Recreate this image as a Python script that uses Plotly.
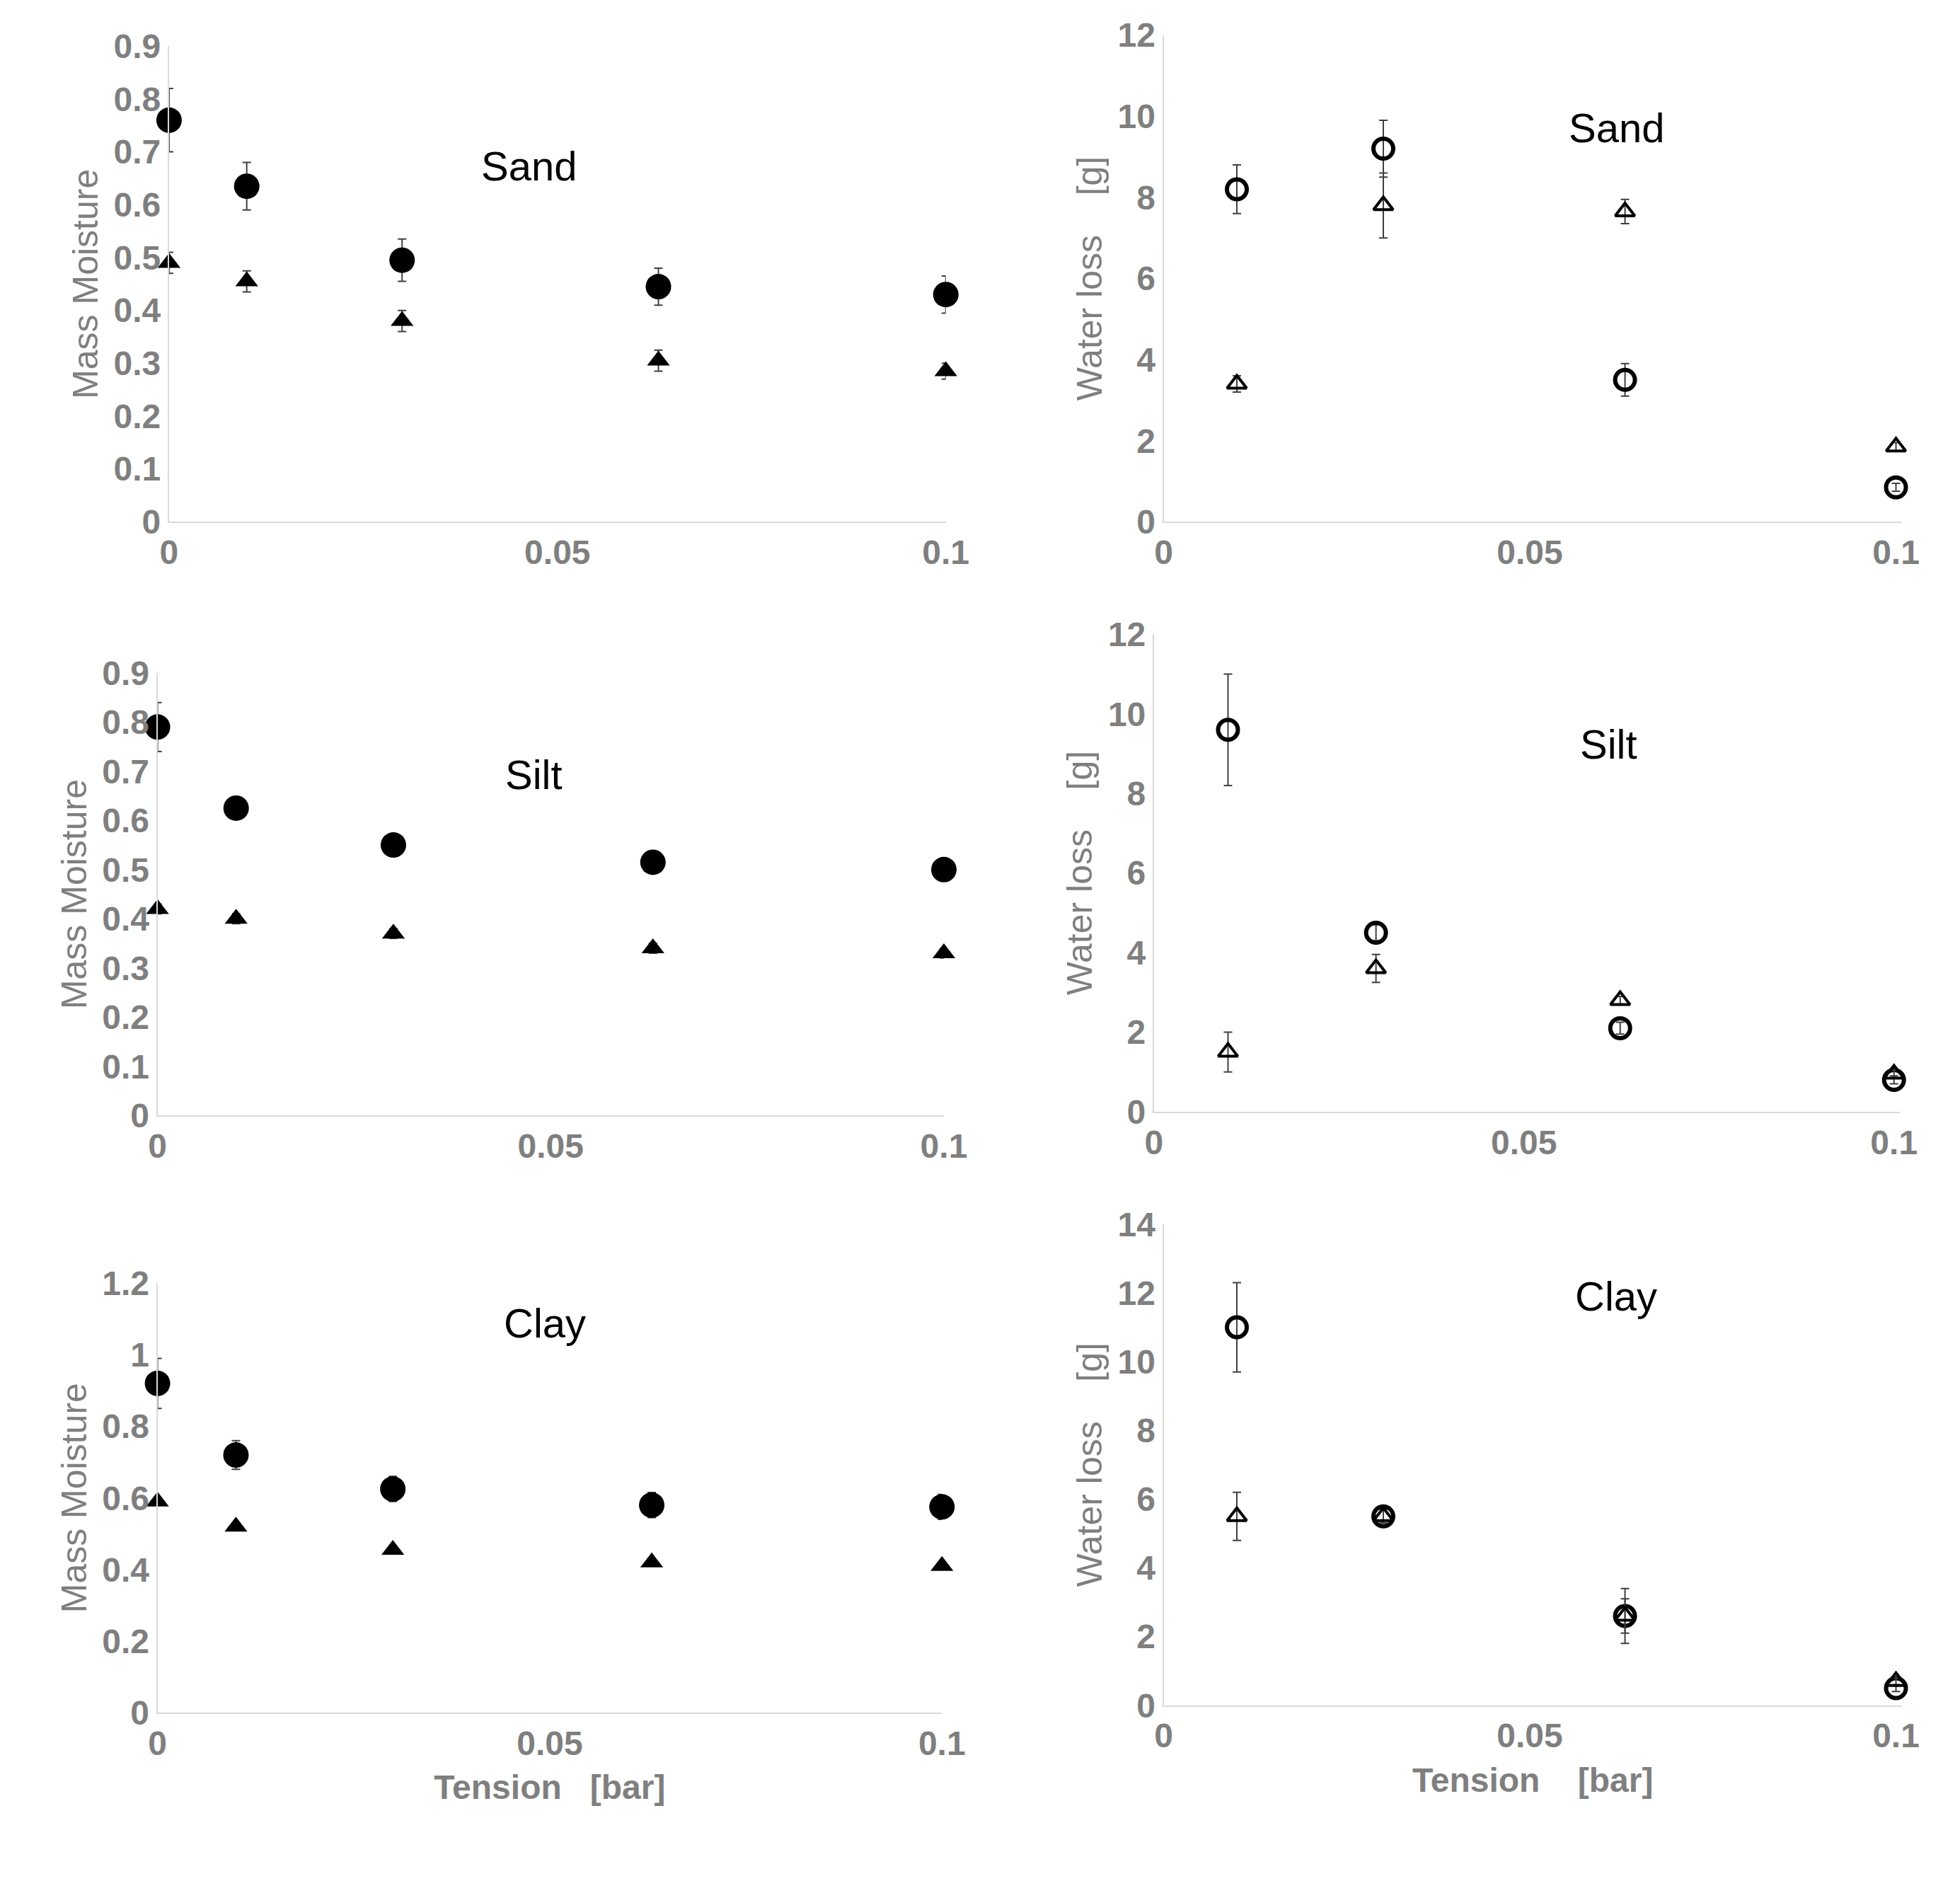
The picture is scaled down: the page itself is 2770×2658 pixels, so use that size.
import plotly.graph_objects as go

x_mass = [0, 0.01, 0.03, 0.063, 0.1]
x_loss = [0.01, 0.03, 0.063, 0.1]

sand_mass_c = [0.76, 0.635, 0.495, 0.445, 0.43]
sand_mass_c_err = [0.06, 0.045, 0.04, 0.035, 0.035]
sand_mass_t = [0.49, 0.455, 0.38, 0.305, 0.285]
sand_mass_t_err = [0.02, 0.02, 0.02, 0.02, 0.015]
sand_loss_c = [8.2, 9.2, 3.5, 0.85]
sand_loss_c_err = [0.6, 0.7, 0.4, 0.1]
sand_loss_t = [3.4, 7.8, 7.65, 1.85]
sand_loss_t_err = [0.2, 0.8, 0.3, 0.1]

silt_mass_c = [0.79, 0.625, 0.55, 0.515, 0.5]
silt_mass_c_err = [0.05, 0.02, 0.015, 0.015, 0.01]
silt_mass_t = [0.42, 0.40, 0.37, 0.34, 0.33]
silt_mass_t_err = [0.01, 0.01, 0.01, 0.01, 0.01]
silt_loss_c = [9.6, 4.5, 2.1, 0.8]
silt_loss_c_err = [1.4, 0.2, 0.15, 0.1]
silt_loss_t = [1.5, 3.6, 2.8, 0.95]
silt_loss_t_err = [0.5, 0.35, 0.1, 0.1]

clay_mass_c = [0.92, 0.72, 0.625, 0.58, 0.575]
clay_mass_c_err = [0.07, 0.04, 0.035, 0.035, 0.035]
clay_mass_t = [0.59, 0.52, 0.455, 0.42, 0.41]
clay_mass_t_err = [0.01, 0.01, 0.01, 0.01, 0.01]
clay_loss_c = [11.0, 5.5, 2.6, 0.5]
clay_loss_c_err = [1.3, 0.2, 0.8, 0.1]
clay_loss_t = [5.5, 5.5, 2.6, 0.7]
clay_loss_t_err = [0.7, 0.2, 0.5, 0.1]

GRAY = "#7f7f7f"
fig = go.Figure()

panels = [
    # name, xs, c, cerr, t, terr, xdom, ydom, ymax, dtick, filled, ytitle, xtitle, label pos
    ("Sand", x_mass, sand_mass_c, sand_mass_c_err, sand_mass_t, sand_mass_t_err, [0.080, 0.483], [0.730, 0.988], 0.9, 0.1, True, "Mass Moisture", "", (0.40, 0.80)),
    ("Sand", x_loss, sand_loss_c, sand_loss_c_err, sand_loss_t, sand_loss_t_err, [0.596, 0.979], [0.730, 0.994], 12, 2, False, "Water loss    [g]", "", (0.68, 0.86)),
    ("Silt", x_mass, silt_mass_c, silt_mass_c_err, silt_mass_t, silt_mass_t_err, [0.074, 0.482], [0.408, 0.648], 0.9, 0.1, True, "Mass Moisture", "", (0.44, 0.77)),
    ("Silt", x_loss, silt_loss_c, silt_loss_c_err, silt_loss_t, silt_loss_t_err, [0.591, 0.978], [0.410, 0.669], 12, 2, False, "Water loss    [g]", "", (0.65, 0.77)),
    ("Clay", x_mass, clay_mass_c, clay_mass_c_err, clay_mass_t, clay_mass_t_err, [0.074, 0.481], [0.084, 0.317], 1.2, 0.2, True, "Mass Moisture", "Tension   [bar]", (0.44, 0.85)),
    ("Clay", x_loss, clay_loss_c, clay_loss_c_err, clay_loss_t, clay_loss_t_err, [0.596, 0.979], [0.088, 0.349], 14, 2, False, "Water loss    [g]", "Tension    [bar]", (0.67, 0.80)),
]

layout = {}
for i, (name, xs, c, ce, t, te, xd, yd, ymax, dt, filled, yt, xt, lp) in enumerate(panels):
    n = "" if i == 0 else str(i + 1)
    xa, ya = "x" + n, "y" + n
    err = lambda e: dict(type="data", array=e, color="#404040", thickness=2, width=6)
    fig.add_trace(go.Scatter(x=xs, y=c, mode="markers", xaxis=xa, yaxis=ya, error_y=err(ce), cliponaxis=False,
                             marker=dict(symbol="circle" if filled else "circle-open", size=36 if filled else 28,
                                         color="black", line=dict(width=6 if not filled else 0, color="black"))))
    fig.add_trace(go.Scatter(x=xs, y=t, mode="markers", xaxis=xa, yaxis=ya, error_y=err(te), cliponaxis=False,
                             marker=dict(symbol="triangle-up" if filled else "triangle-up-open", size=28 if filled else 24,
                                         color="black", line=dict(width=4 if not filled else 0, color="black"))))
    layout["xaxis" + n] = dict(domain=xd, anchor=ya, range=[0, 0.1] if filled else [0, 0.1008],
                               tickvals=[0, 0.05, 0.1],
                               ticktext=["0", "0.05", "0.1"], showline=True, linecolor="#d9d9d9", linewidth=2,
                               showgrid=False, zeroline=False, ticks="", ticklen=0,
                               tickfont=dict(size=48, color=GRAY, family="Liberation Sans", weight="bold"),
                               title=dict(text="<b>" + xt + "</b>", font=dict(size=48, color=GRAY), standoff=20))
    layout["yaxis" + n] = dict(domain=yd, anchor=xa, range=[0, ymax], dtick=dt, showline=True,
                               linecolor="#d9d9d9", linewidth=2, showgrid=False, zeroline=False,
                               tickfont=dict(size=48, color=GRAY, family="Liberation Sans", weight="bold"),
                               title=dict(text=yt, font=dict(size=50, color=GRAY), standoff=6))
    fig.add_annotation(text=name, xref="paper", yref="paper", x=xd[0] + (xd[1] - xd[0]) * lp[0],
                       y=yd[0] + (yd[1] - yd[0]) * lp[1], showarrow=False,
                       font=dict(size=58, color="black", family="Liberation Sans"))

fig.update_layout(**layout, width=2770, height=2658, showlegend=False, plot_bgcolor="white",
                  paper_bgcolor="white", margin=dict(l=0, r=0, t=0, b=0), font=dict(family="Liberation Sans"))
fig.write_html("out.html")
